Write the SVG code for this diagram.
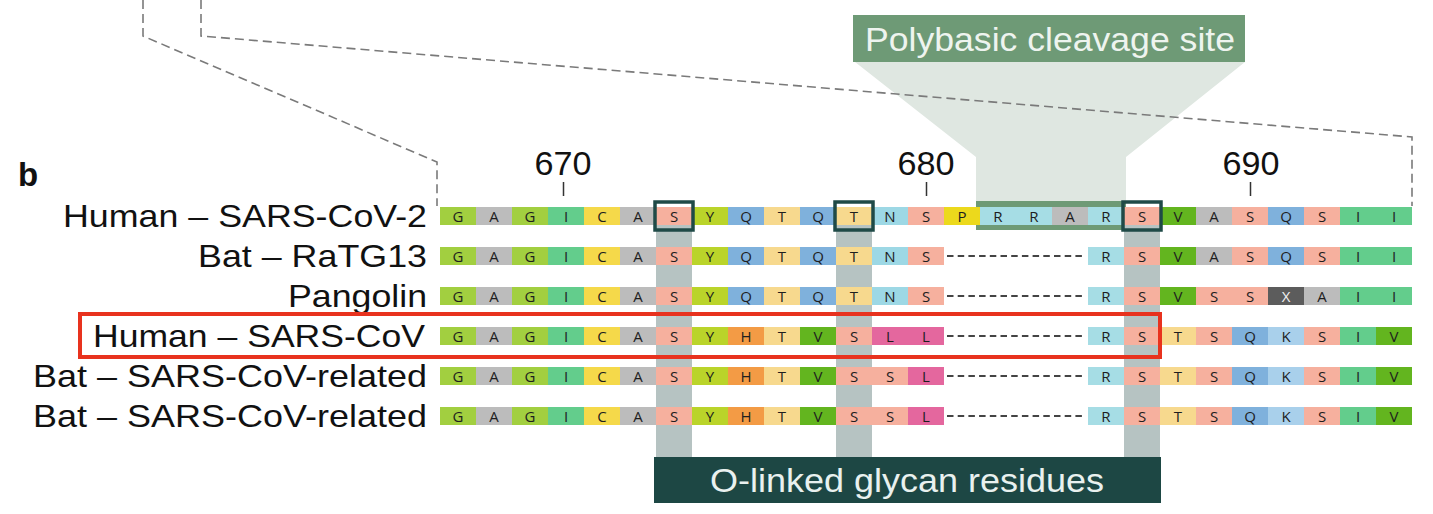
<svg xmlns="http://www.w3.org/2000/svg" width="1433" height="514" viewBox="0 0 1433 514">
<style>
.G{fill:#a2cf40}.A{fill:#bcbcbc}.I{fill:#63cd8c}.C{fill:#f5d94a}.S{fill:#f6b09e}.Y{fill:#bad42a}.Q{fill:#7fb1dc}.T{fill:#f7d98e}.N{fill:#9dd8e5}.P{fill:#ecd91c}.R{fill:#a6dde5}.V{fill:#63b51f}.H{fill:#f39b45}.L{fill:#e4679e}.K{fill:#a9d0eb}.X{fill:#5c5c5c}
text{font-family:"Liberation Sans",Arial,sans-serif}
.l{font-family:"Open Sans","Noto Sans",sans-serif;font-size:15px;text-anchor:middle;fill:#1e1e1e}
.w{fill:#f2f2f2}
.lab{font-size:32px;text-anchor:end;fill:#111}
.num{font-size:34px;text-anchor:middle;fill:#111}
.gap{stroke:#444;stroke-width:2;stroke-dasharray:6.5 4.2;fill:none}
.dash{stroke:#7a7a7a;stroke-width:1.6;stroke-dasharray:9 5;fill:none}
.hl{fill:none;stroke:#1f4a47;stroke-width:3.5}
.gcol{fill:#b6c3c2}
</style>
<!-- polybasic cleavage site callout -->
<g id="polybasic">
<polygon points="855,62 1245,62 1126,157 1126,205 976,205 976,157" fill="#dfe7e1"/>
<rect x="853" y="15" width="392" height="47" fill="#6e9a76"/>
<text x="1050" y="51" style="font-size:33px;fill:#eef4ef;text-anchor:middle" textLength="370" lengthAdjust="spacingAndGlyphs">Polybasic cleavage site</text>
<rect x="976" y="201" width="150" height="29" fill="#6e9a76"/>
</g>
<!-- connectors: zoom guide lines -->
<g id="connectors">
<polyline class="dash" points="143,0 143,36 437,162 437,206"/>
<polyline class="dash" points="201,0 201,36 1412,137 1412,206"/>
</g>
<!-- panel label -->
<text x="18" y="186" style="font-size:33px;font-weight:bold;fill:#111">b</text>
<!-- position ruler -->
<g id="ruler">
<text class="num" x="563" y="175" textLength="57" lengthAdjust="spacingAndGlyphs">670</text>
<text class="num" x="926" y="175" textLength="57" lengthAdjust="spacingAndGlyphs">680</text>
<text class="num" x="1251" y="175" textLength="57" lengthAdjust="spacingAndGlyphs">690</text>
<path d="M563.5,182V196M926.5,182V196M1250.5,182V196" stroke="#333" stroke-width="1.5"/>
</g>
<!-- glycan columns -->
<g id="glycan-columns">
<rect class="gcol" x="656" y="225" width="36" height="233"/>
<rect class="gcol" x="836" y="225" width="36" height="233"/>
<rect class="gcol" x="1124" y="225" width="36" height="233"/>
</g>
<!-- row 1 -->
<g id="row1">
<text class="lab" x="427" y="227" textLength="364" lengthAdjust="spacingAndGlyphs">Human – SARS-CoV-2</text>
<g transform="translate(0,207)">
<rect class="G" x="440" width="36" height="18"/><rect class="A" x="476" width="36" height="18"/><rect class="G" x="512" width="36" height="18"/><rect class="I" x="548" width="36" height="18"/><rect class="C" x="584" width="36" height="18"/><rect class="A" x="620" width="36" height="18"/><rect class="S" x="656" width="36" height="18"/><rect class="Y" x="692" width="36" height="18"/><rect class="Q" x="728" width="36" height="18"/><rect class="T" x="764" width="36" height="18"/><rect class="Q" x="800" width="36" height="18"/><rect class="T" x="836" width="36" height="18"/><rect class="N" x="872" width="36" height="18"/><rect class="S" x="908" width="36" height="18"/><rect class="P" x="944" width="36" height="18"/><rect class="R" x="980" width="36" height="18"/><rect class="R" x="1016" width="36" height="18"/><rect class="A" x="1052" width="36" height="18"/><rect class="R" x="1088" width="36" height="18"/><rect class="S" x="1124" width="36" height="18"/><rect class="V" x="1160" width="36" height="18"/><rect class="A" x="1196" width="36" height="18"/><rect class="S" x="1232" width="36" height="18"/><rect class="Q" x="1268" width="36" height="18"/><rect class="S" x="1304" width="36" height="18"/><rect class="I" x="1340" width="36" height="18"/><rect class="I" x="1376" width="36" height="18"/>
<text class="l" y="15"><tspan x="458">G</tspan><tspan x="494">A</tspan><tspan x="530">G</tspan><tspan x="566">I</tspan><tspan x="602">C</tspan><tspan x="638">A</tspan><tspan x="674">S</tspan><tspan x="710">Y</tspan><tspan x="746">Q</tspan><tspan x="782">T</tspan><tspan x="818">Q</tspan><tspan x="854">T</tspan><tspan x="890">N</tspan><tspan x="926">S</tspan><tspan x="962">P</tspan><tspan x="998">R</tspan><tspan x="1034">R</tspan><tspan x="1070">A</tspan><tspan x="1106">R</tspan><tspan x="1142">S</tspan><tspan x="1178">V</tspan><tspan x="1214">A</tspan><tspan x="1250">S</tspan><tspan x="1286">Q</tspan><tspan x="1322">S</tspan><tspan x="1358">I</tspan><tspan x="1394">I</tspan></text>
</g>
<rect class="hl" x="655" y="202" width="38" height="28"/>
<rect class="hl" x="835" y="202" width="38" height="28"/>
<rect class="hl" x="1123" y="202" width="38" height="28"/>
</g>
<!-- row 2 -->
<g id="row2">
<text class="lab" x="427" y="267" textLength="229" lengthAdjust="spacingAndGlyphs">Bat – RaTG13</text>
<g transform="translate(0,247)">
<rect class="G" x="440" width="36" height="18"/><rect class="A" x="476" width="36" height="18"/><rect class="G" x="512" width="36" height="18"/><rect class="I" x="548" width="36" height="18"/><rect class="C" x="584" width="36" height="18"/><rect class="A" x="620" width="36" height="18"/><rect class="S" x="656" width="36" height="18"/><rect class="Y" x="692" width="36" height="18"/><rect class="Q" x="728" width="36" height="18"/><rect class="T" x="764" width="36" height="18"/><rect class="Q" x="800" width="36" height="18"/><rect class="T" x="836" width="36" height="18"/><rect class="N" x="872" width="36" height="18"/><rect class="S" x="908" width="36" height="18"/><line class="gap" x1="947" y1="9" x2="1086" y2="9"/><rect class="R" x="1088" width="36" height="18"/><rect class="S" x="1124" width="36" height="18"/><rect class="V" x="1160" width="36" height="18"/><rect class="A" x="1196" width="36" height="18"/><rect class="S" x="1232" width="36" height="18"/><rect class="Q" x="1268" width="36" height="18"/><rect class="S" x="1304" width="36" height="18"/><rect class="I" x="1340" width="36" height="18"/><rect class="I" x="1376" width="36" height="18"/>
<text class="l" y="15"><tspan x="458">G</tspan><tspan x="494">A</tspan><tspan x="530">G</tspan><tspan x="566">I</tspan><tspan x="602">C</tspan><tspan x="638">A</tspan><tspan x="674">S</tspan><tspan x="710">Y</tspan><tspan x="746">Q</tspan><tspan x="782">T</tspan><tspan x="818">Q</tspan><tspan x="854">T</tspan><tspan x="890">N</tspan><tspan x="926">S</tspan><tspan x="1106">R</tspan><tspan x="1142">S</tspan><tspan x="1178">V</tspan><tspan x="1214">A</tspan><tspan x="1250">S</tspan><tspan x="1286">Q</tspan><tspan x="1322">S</tspan><tspan x="1358">I</tspan><tspan x="1394">I</tspan></text>
</g>
</g>
<!-- row 3 -->
<g id="row3">
<text class="lab" x="427" y="307" textLength="139" lengthAdjust="spacingAndGlyphs">Pangolin</text>
<g transform="translate(0,287)">
<rect class="G" x="440" width="36" height="18"/><rect class="A" x="476" width="36" height="18"/><rect class="G" x="512" width="36" height="18"/><rect class="I" x="548" width="36" height="18"/><rect class="C" x="584" width="36" height="18"/><rect class="A" x="620" width="36" height="18"/><rect class="S" x="656" width="36" height="18"/><rect class="Y" x="692" width="36" height="18"/><rect class="Q" x="728" width="36" height="18"/><rect class="T" x="764" width="36" height="18"/><rect class="Q" x="800" width="36" height="18"/><rect class="T" x="836" width="36" height="18"/><rect class="N" x="872" width="36" height="18"/><rect class="S" x="908" width="36" height="18"/><line class="gap" x1="947" y1="9" x2="1086" y2="9"/><rect class="R" x="1088" width="36" height="18"/><rect class="S" x="1124" width="36" height="18"/><rect class="V" x="1160" width="36" height="18"/><rect class="S" x="1196" width="36" height="18"/><rect class="S" x="1232" width="36" height="18"/><rect class="X" x="1268" width="36" height="18"/><rect class="A" x="1304" width="36" height="18"/><rect class="I" x="1340" width="36" height="18"/><rect class="I" x="1376" width="36" height="18"/>
<text class="l" y="15"><tspan x="458">G</tspan><tspan x="494">A</tspan><tspan x="530">G</tspan><tspan x="566">I</tspan><tspan x="602">C</tspan><tspan x="638">A</tspan><tspan x="674">S</tspan><tspan x="710">Y</tspan><tspan x="746">Q</tspan><tspan x="782">T</tspan><tspan x="818">Q</tspan><tspan x="854">T</tspan><tspan x="890">N</tspan><tspan x="926">S</tspan><tspan x="1106">R</tspan><tspan x="1142">S</tspan><tspan x="1178">V</tspan><tspan x="1214">S</tspan><tspan x="1250">S</tspan><tspan x="1322">A</tspan><tspan x="1358">I</tspan><tspan x="1394">I</tspan></text>
<text class="l w" x="1286" y="15">X</text>
</g>
</g>
<!-- row 4 -->
<g id="row4">
<text class="lab" x="425" y="347" textLength="332" lengthAdjust="spacingAndGlyphs">Human – SARS-CoV</text>
<g transform="translate(0,327)">
<rect class="G" x="440" width="36" height="18"/><rect class="A" x="476" width="36" height="18"/><rect class="G" x="512" width="36" height="18"/><rect class="I" x="548" width="36" height="18"/><rect class="C" x="584" width="36" height="18"/><rect class="A" x="620" width="36" height="18"/><rect class="S" x="656" width="36" height="18"/><rect class="Y" x="692" width="36" height="18"/><rect class="H" x="728" width="36" height="18"/><rect class="T" x="764" width="36" height="18"/><rect class="V" x="800" width="36" height="18"/><rect class="S" x="836" width="36" height="18"/><rect class="L" x="872" width="36" height="18"/><rect class="L" x="908" width="36" height="18"/><line class="gap" x1="947" y1="9" x2="1086" y2="9"/><rect class="R" x="1088" width="36" height="18"/><rect class="S" x="1124" width="36" height="18"/><rect class="T" x="1160" width="36" height="18"/><rect class="S" x="1196" width="36" height="18"/><rect class="Q" x="1232" width="36" height="18"/><rect class="K" x="1268" width="36" height="18"/><rect class="S" x="1304" width="36" height="18"/><rect class="I" x="1340" width="36" height="18"/><rect class="V" x="1376" width="36" height="18"/>
<text class="l" y="15"><tspan x="458">G</tspan><tspan x="494">A</tspan><tspan x="530">G</tspan><tspan x="566">I</tspan><tspan x="602">C</tspan><tspan x="638">A</tspan><tspan x="674">S</tspan><tspan x="710">Y</tspan><tspan x="746">H</tspan><tspan x="782">T</tspan><tspan x="818">V</tspan><tspan x="854">S</tspan><tspan x="890">L</tspan><tspan x="926">L</tspan><tspan x="1106">R</tspan><tspan x="1142">S</tspan><tspan x="1178">T</tspan><tspan x="1214">S</tspan><tspan x="1250">Q</tspan><tspan x="1286">K</tspan><tspan x="1322">S</tspan><tspan x="1358">I</tspan><tspan x="1394">V</tspan></text>
</g>
<rect x="80" y="314" width="1080" height="43" fill="none" stroke="#e8321e" stroke-width="4"/>
</g>
<!-- row 5 -->
<g id="row5">
<text class="lab" x="427" y="387" textLength="394" lengthAdjust="spacingAndGlyphs">Bat – SARS-CoV-related</text>
<g transform="translate(0,367)">
<rect class="G" x="440" width="36" height="18"/><rect class="A" x="476" width="36" height="18"/><rect class="G" x="512" width="36" height="18"/><rect class="I" x="548" width="36" height="18"/><rect class="C" x="584" width="36" height="18"/><rect class="A" x="620" width="36" height="18"/><rect class="S" x="656" width="36" height="18"/><rect class="Y" x="692" width="36" height="18"/><rect class="H" x="728" width="36" height="18"/><rect class="T" x="764" width="36" height="18"/><rect class="V" x="800" width="36" height="18"/><rect class="S" x="836" width="36" height="18"/><rect class="S" x="872" width="36" height="18"/><rect class="L" x="908" width="36" height="18"/><line class="gap" x1="947" y1="9" x2="1086" y2="9"/><rect class="R" x="1088" width="36" height="18"/><rect class="S" x="1124" width="36" height="18"/><rect class="T" x="1160" width="36" height="18"/><rect class="S" x="1196" width="36" height="18"/><rect class="Q" x="1232" width="36" height="18"/><rect class="K" x="1268" width="36" height="18"/><rect class="S" x="1304" width="36" height="18"/><rect class="I" x="1340" width="36" height="18"/><rect class="V" x="1376" width="36" height="18"/>
<text class="l" y="15"><tspan x="458">G</tspan><tspan x="494">A</tspan><tspan x="530">G</tspan><tspan x="566">I</tspan><tspan x="602">C</tspan><tspan x="638">A</tspan><tspan x="674">S</tspan><tspan x="710">Y</tspan><tspan x="746">H</tspan><tspan x="782">T</tspan><tspan x="818">V</tspan><tspan x="854">S</tspan><tspan x="890">S</tspan><tspan x="926">L</tspan><tspan x="1106">R</tspan><tspan x="1142">S</tspan><tspan x="1178">T</tspan><tspan x="1214">S</tspan><tspan x="1250">Q</tspan><tspan x="1286">K</tspan><tspan x="1322">S</tspan><tspan x="1358">I</tspan><tspan x="1394">V</tspan></text>
</g>
</g>
<!-- row 6 -->
<g id="row6">
<text class="lab" x="427" y="427" textLength="394" lengthAdjust="spacingAndGlyphs">Bat – SARS-CoV-related</text>
<g transform="translate(0,407)">
<rect class="G" x="440" width="36" height="18"/><rect class="A" x="476" width="36" height="18"/><rect class="G" x="512" width="36" height="18"/><rect class="I" x="548" width="36" height="18"/><rect class="C" x="584" width="36" height="18"/><rect class="A" x="620" width="36" height="18"/><rect class="S" x="656" width="36" height="18"/><rect class="Y" x="692" width="36" height="18"/><rect class="H" x="728" width="36" height="18"/><rect class="T" x="764" width="36" height="18"/><rect class="V" x="800" width="36" height="18"/><rect class="S" x="836" width="36" height="18"/><rect class="S" x="872" width="36" height="18"/><rect class="L" x="908" width="36" height="18"/><line class="gap" x1="947" y1="9" x2="1086" y2="9"/><rect class="R" x="1088" width="36" height="18"/><rect class="S" x="1124" width="36" height="18"/><rect class="T" x="1160" width="36" height="18"/><rect class="S" x="1196" width="36" height="18"/><rect class="Q" x="1232" width="36" height="18"/><rect class="K" x="1268" width="36" height="18"/><rect class="S" x="1304" width="36" height="18"/><rect class="I" x="1340" width="36" height="18"/><rect class="V" x="1376" width="36" height="18"/>
<text class="l" y="15"><tspan x="458">G</tspan><tspan x="494">A</tspan><tspan x="530">G</tspan><tspan x="566">I</tspan><tspan x="602">C</tspan><tspan x="638">A</tspan><tspan x="674">S</tspan><tspan x="710">Y</tspan><tspan x="746">H</tspan><tspan x="782">T</tspan><tspan x="818">V</tspan><tspan x="854">S</tspan><tspan x="890">S</tspan><tspan x="926">L</tspan><tspan x="1106">R</tspan><tspan x="1142">S</tspan><tspan x="1178">T</tspan><tspan x="1214">S</tspan><tspan x="1250">Q</tspan><tspan x="1286">K</tspan><tspan x="1322">S</tspan><tspan x="1358">I</tspan><tspan x="1394">V</tspan></text>
</g>
</g>
<!-- O-linked glycan label -->
<g id="olinked">
<rect x="654" y="457" width="507" height="46" fill="#1d4744"/>
<text x="907" y="492" style="font-size:33px;fill:#e9f1ef;text-anchor:middle" textLength="394" lengthAdjust="spacingAndGlyphs">O-linked glycan residues</text>
</g>
</svg>
